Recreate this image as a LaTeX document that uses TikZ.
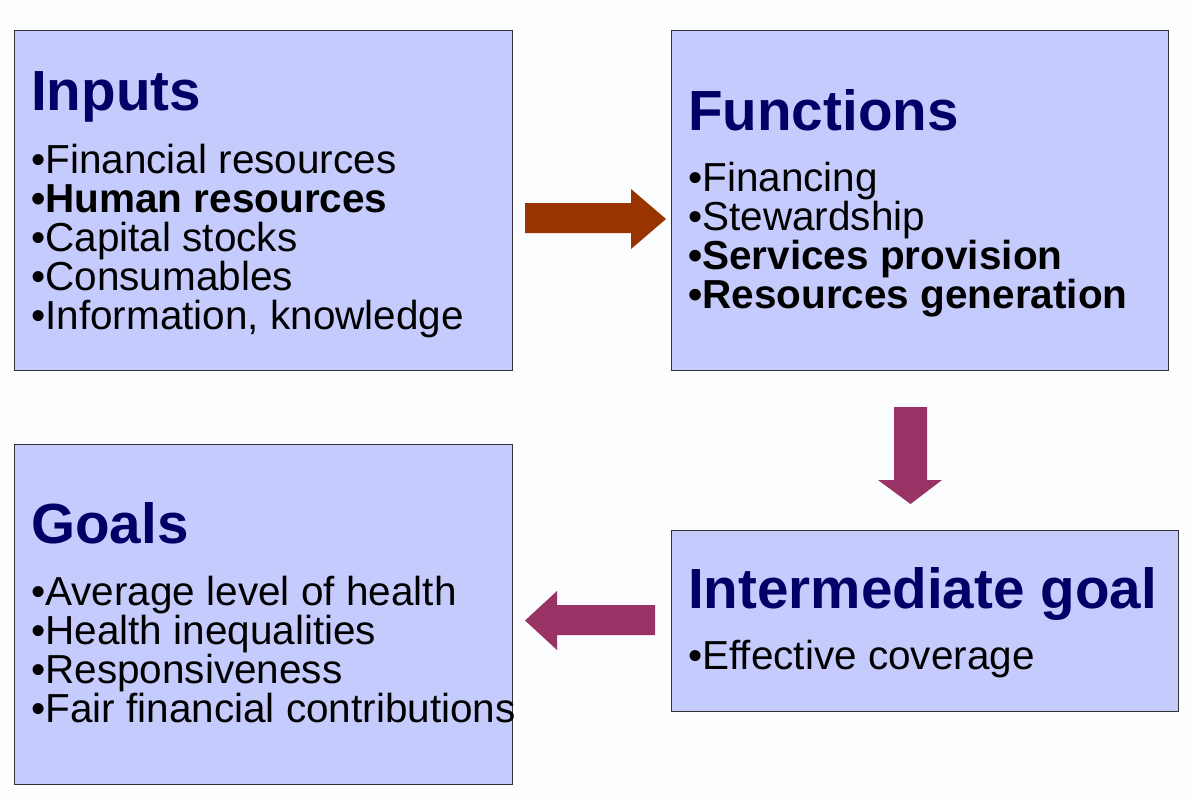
\documentclass[tikz,border=0pt]{standalone}
\usepackage{fontspec}
\setmainfont{Liberation Sans}
\definecolor{bgwhite}{RGB}{251,253,255}
\definecolor{boxblue}{RGB}{197,203,253}
\definecolor{titleblue}{RGB}{0,0,102}
\definecolor{arrowrust}{RGB}{153,51,0}
\definecolor{arrowplum}{RGB}{153,51,102}
\begin{document}
\begin{tikzpicture}[x=1pt, y=-1pt]
      \tikzstyle{STY1} = [draw=black!80, fill=boxblue, rectangle, line width=1.2pt, anchor=north west, inner sep=0pt]
      \tikzstyle{STY2} = [anchor=base west, inner sep=0pt, text=titleblue, font=\fontsize{56.6}{56}\selectfont\bfseries]
      \tikzstyle{STY3} = [anchor=base west, inner sep=0pt, text=black, font=\fontsize{40.5}{39}\selectfont]
      \tikzstyle{STY4} = [fill=arrowrust]
      \tikzstyle{STY5} = [fill=arrowplum]

      \fill[bgwhite] (0,0) rectangle (1194,801);

      %%%%% VERTEX

      \node[STY1, minimum width=498pt, minimum height=340pt](v1) at (14, 30) {};
      \node[STY1, minimum width=497pt, minimum height=340pt](v2) at (671, 30) {};
      \node[STY1, minimum width=507pt, minimum height=181pt](v3) at (671, 530) {};
      \node[STY1, minimum width=498pt, minimum height=340pt](v4) at (14, 444) {};

      \node[STY2](v1t) at (31, 110) {Inputs};
      \node[STY3](v1a) at (31, 173) {•Financial resources};
      \node[STY3](v1b) at (31, 212) {\bfseries •Human resources};
      \node[STY3](v1c) at (31, 251) {•Capital stocks};
      \node[STY3](v1d) at (31, 290) {•Consumables};
      \node[STY3](v1e) at (31, 329) {•Information, knowledge};

      \node[STY2](v2t) at (688, 130) {Functions};
      \node[STY3](v2a) at (688, 191) {•Financing};
      \node[STY3](v2b) at (688, 230) {•Stewardship};
      \node[STY3](v2c) at (688, 269) {\bfseries •Services provision};
      \node[STY3](v2d) at (688, 308) {\bfseries •Resources generation};

      \node[STY2](v3t) at (688, 608) {Intermediate goal};
      \node[STY3](v3a) at (688, 669) {•Effective coverage};

      \node[STY2](v4t) at (31, 543) {Goals};
      \node[STY3](v4a) at (31, 605) {•Average level of health};
      \node[STY3](v4b) at (31, 644) {•Health inequalities};
      \node[STY3](v4c) at (31, 683) {•Responsiveness};
      \node[STY3](v4d) at (31, 722) {•Fair financial contributions};

      %%%%% ARROWS

      \fill[STY4] (525,203) -- (631,203) -- (631,189) -- (666,219) -- (631,249) -- (631,233) -- (525,233) -- cycle;
      \fill[STY5] (894,407) -- (927,407) -- (927,480) -- (942,480) -- (910.5,504) -- (878,480) -- (894,480) -- cycle;
      \fill[STY5] (655,605) -- (557,605) -- (557,591) -- (525,620.5) -- (557,650) -- (557,635) -- (655,635) -- cycle;
\end{tikzpicture}
\end{document}
